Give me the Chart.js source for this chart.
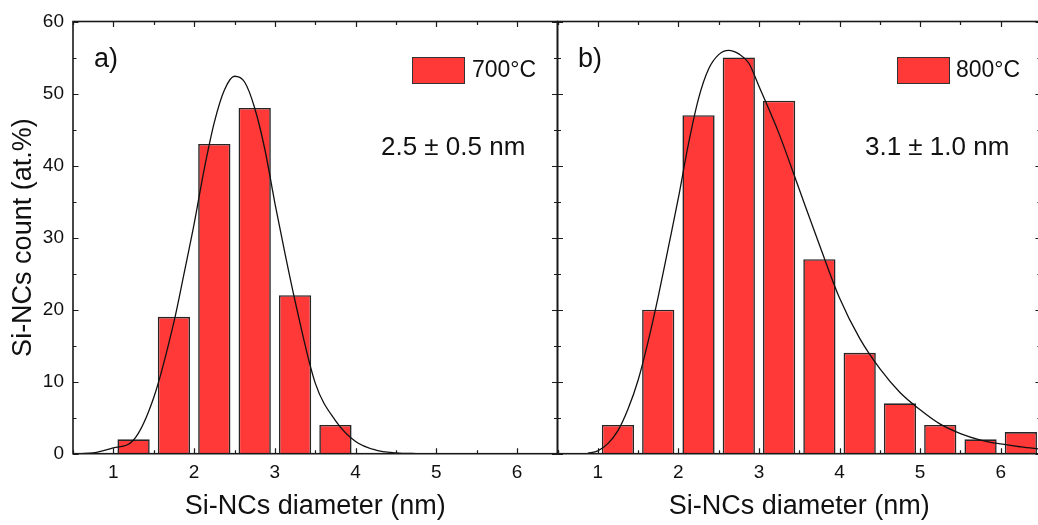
<!DOCTYPE html>
<html>
<head>
<meta charset="utf-8">
<script src="https://cdn.jsdelivr.net/npm/chart.js@4.4.0/dist/chart.umd.min.js"></script>
<style>
  html, body { margin: 0; padding: 0; background: #fff; }
  #wrap { position: relative; width: 1038px; height: 525px; overflow: hidden; font-family: "Liberation Sans", Arial, sans-serif; color: #111; }
  .panel { position: absolute; top: 0; }
  .note { position: absolute; line-height: 1; white-space: nowrap; }
  .key { position: absolute; width: 51px; height: 25px; background: #ff3838; border: 1px solid #333; }
</style>
</head>
<body>
<div id="wrap">
  <div class="panel" style="left:0"><canvas id="left" width="600" height="525"></canvas></div>
  <div class="panel" style="left:517px"><canvas id="right" width="540" height="525"></canvas></div>

  <div class="note" style="left:94px; top:45px; font-size:27px">a)</div>
  <div class="note" style="left:578px; top:45px; font-size:27px">b)</div>

  <div class="key" style="left:412px; top:57px"></div>
  <div class="note" style="left:472px; top:58px; font-size:23px">700°C</div>
  <div class="key" style="left:897px; top:57px"></div>
  <div class="note" style="left:956px; top:58px; font-size:23px">800°C</div>

  <div class="note" style="left:381px; top:133px; font-size:26px">2.5 &plusmn; 0.5 nm</div>
  <div class="note" style="left:865px; top:133px; font-size:26px">3.1 &plusmn; 1.0 nm</div>
</div>
<script>
// bin centres (nm) and counts (at.%)
const diameters = [1.25, 1.75, 2.25, 2.75, 3.25, 3.75, 4.25, 4.75, 5.25, 5.75, 6.25];
const count700 = [2, 19, 43, 48, 22, 4];
const count800 = [4, 20, 47, 55, 49, 27, 14, 7, 4, 2, 3];

// fitted curves
const fitX700 = [0.6, 0.75, 1.0, 1.25, 1.5, 1.75, 1.875, 2.0, 2.125, 2.25, 2.375, 2.5, 2.625, 2.75, 2.875, 3.0, 3.125, 3.25, 3.5, 3.75, 4.0, 4.25, 4.5, 4.75, 5.0, 6.5];
const fitY700 = [0.02, 0.1, 0.8, 1.9, 7.8, 18.3, 25.0, 31.9, 39.5, 46.0, 50.5, 52.4, 51.6, 48.0, 42.3, 34.8, 27.8, 21.2, 9.8, 4.6, 1.7, 0.5, 0.12, 0.02, 0, 0];
const fitX800 = [0.875, 1.0, 1.125, 1.25, 1.375, 1.5, 1.625, 1.75, 1.875, 2.0, 2.125, 2.25, 2.375, 2.5, 2.625, 2.75, 2.875, 3.0, 3.25, 3.5, 3.75, 4.0, 4.25, 4.5, 4.75, 5.0, 5.25, 5.5, 5.75, 6.0, 6.25, 6.5];
const fitY800 = [0.05, 0.4, 1.4, 3.2, 6.2, 10.2, 15.6, 21.8, 28.6, 35.5, 43.0, 49.3, 53.4, 55.4, 56.0, 55.5, 54.2, 51.0, 44.4, 36.7, 29.0, 21.6, 16.0, 11.8, 8.5, 6.1, 4.1, 2.8, 1.9, 1.35, 0.95, 0.62];

const xTicks = [1, 2, 3, 4, 5, 6];
const yTicks = [0, 10, 20, 30, 40, 50, 60];

const FONT = '"Liberation Sans", Arial, sans-serif';
const INK = '#1a1a1a';

// inward ticks (major + minor) and the closed frame
const framePlugin = {
  id: 'frame',
  afterDatasetsDraw(chart) {
    const { ctx, chartArea: a } = chart;
    const x = chart.scales.x, y = chart.scales.y;
    ctx.save();
    ctx.strokeStyle = INK;
    ctx.lineWidth = 1.2;
    ctx.beginPath();
    const xs = [];
    xTicks.forEach(v => { xs.push([v, 5.5]); xs.push([v + 0.5, 3.5]); });
    xs.push([xTicks[0] - 0.5, 3.5]);
    xs.forEach(([v, len]) => {
      const px = Math.round(x.getPixelForValue(v)) + 0.5;
      ctx.moveTo(px, a.bottom); ctx.lineTo(px, a.bottom - len);
      ctx.moveTo(px, a.top); ctx.lineTo(px, a.top + len);
    });
    yTicks.forEach((v, i) => {
      const ticks = [[v, 5.5]];
      if (i < yTicks.length - 1) ticks.push([(v + yTicks[i + 1]) / 2, 3.5]);
      ticks.forEach(([t, len]) => {
        const py = Math.round(y.getPixelForValue(t)) + 0.5;
        ctx.moveTo(a.left, py); ctx.lineTo(a.left + len, py);
        ctx.moveTo(a.right, py); ctx.lineTo(a.right - len, py);
      });
    });
    ctx.stroke();
    ctx.lineWidth = 1.6;
    ctx.strokeRect(a.left, a.top, a.right - a.left, a.bottom - a.top);
    ctx.restore();
  }
};

function makePanel(id, counts, fitX, fitY, padding, showY) {
  const bars = counts.map((c, i) => ({ x: diameters[i], y: c }));
  const fit = fitX.map((v, i) => ({ x: v, y: fitY[i] }));
  return new Chart(document.getElementById(id), {
    type: 'bar',
    data: {
      datasets: [
        {
          type: 'line',
          data: fit,
          borderColor: '#111',
          borderWidth: 1.3,
          pointRadius: 0,
          fill: false,
          cubicInterpolationMode: 'monotone',
          order: 0
        },
        {
          data: bars,
          backgroundColor: '#ff3838',
          borderColor: '#262626',
          borderWidth: 1.6,
          barPercentage: 0.8,
          categoryPercentage: 1.0,
          order: 1
        }
      ]
    },
    options: {
      responsive: false,
      animation: false,
      devicePixelRatio: 1,
      layout: { padding: padding },
      plugins: { legend: { display: false }, tooltip: { enabled: false } },
      scales: {
        x: {
          type: 'linear',
          min: 0.5,
          max: 6.5,
          offset: false,
          afterBuildTicks: s => { s.ticks = xTicks.map(v => ({ value: v })); },
          afterFit: s => { s.height = 71.3; },
          grid: { display: false, drawTicks: false },
          border: { display: false },
          ticks: { color: '#111', padding: 8, font: { family: FONT, size: 19 }, maxRotation: 0 },
          title: {
            display: true,
            text: 'Si-NCs diameter (nm)',
            color: '#111',
            font: { family: FONT, size: 27 },
            padding: { top: 0, bottom: 2 }
          }
        },
        y: {
          min: 0,
          max: 60,
          afterBuildTicks: s => { s.ticks = yTicks.map(v => ({ value: v })); },
          afterFit: s => { s.width = showY ? 73 : 0; },
          grid: { display: false, drawTicks: false },
          border: { display: false },
          ticks: { display: showY, color: '#111', padding: 9, font: { family: FONT, size: 19 } },
          title: {
            display: showY,
            text: 'Si-NCs count (at.%)',
            color: '#111',
            font: { family: FONT, size: 27 },
            padding: { top: 7, bottom: 0 }
          }
        }
      }
    },
    plugins: [framePlugin]
  });
}

makePanel('left', count700, fitX700, fitY700, { left: 0, right: 42.5, top: 21.5, bottom: 0 }, true);
makePanel('right', count800, fitX800, fitY800, { left: 40.5, right: 16, top: 21.5, bottom: 0 }, false);
</script>
</body>
</html>
